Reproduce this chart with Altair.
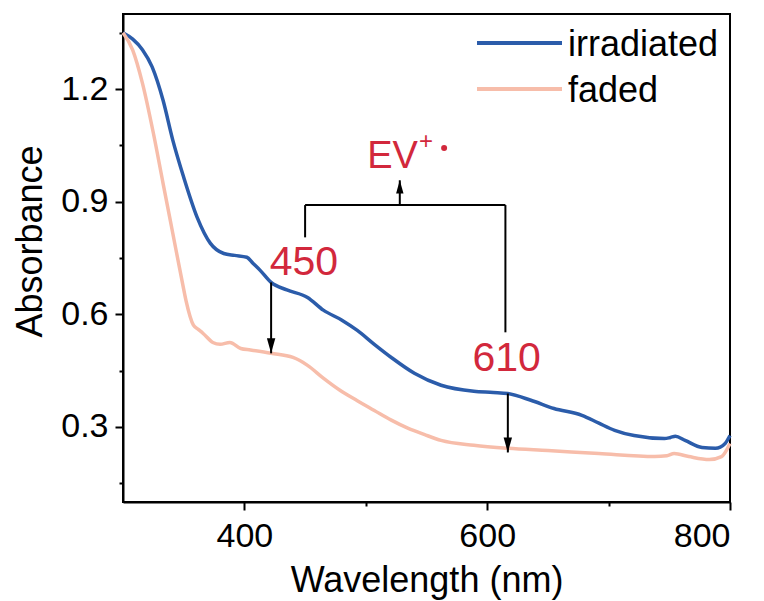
import altair as alt
import pandas as pd

# ---- data ----
irr_nm = [300, 308, 316, 324, 333, 341, 350, 361, 372, 383, 392, 402, 407, 413, 422, 435, 452, 465, 480, 493,
          507, 521, 540, 562, 589, 605, 617, 636, 655, 678, 692, 705, 721, 746, 751, 755, 763, 777, 788, 796, 800]
irr_abs = [1.35, 1.333, 1.305, 1.259, 1.17, 1.064, 0.965, 0.859, 0.789, 0.762, 0.757, 0.752, 0.736, 0.717, 0.685,
           0.665, 0.645, 0.611, 0.585, 0.557, 0.52, 0.485, 0.443, 0.411, 0.395, 0.392, 0.389, 0.371, 0.349, 0.331,
           0.31, 0.291, 0.277, 0.269, 0.272, 0.275, 0.264, 0.245, 0.243, 0.256, 0.277]

fad_nm = [300, 308, 316, 325, 333, 341, 349, 352, 358, 362, 366, 374, 380, 388, 397, 405, 422, 440, 452, 465,
          479, 493, 507, 521, 535, 548, 562, 589, 617, 650, 692, 738, 748, 754, 766, 783, 793, 800]
fad_abs = [1.35, 1.304, 1.216, 1.083, 0.949, 0.816, 0.683, 0.635, 0.571, 0.56, 0.549, 0.525, 0.52, 0.525, 0.509,
           0.505, 0.496, 0.485, 0.464, 0.43, 0.397, 0.37, 0.344, 0.318, 0.296, 0.28, 0.264, 0.251, 0.243, 0.237,
           0.229, 0.221, 0.223, 0.229, 0.221, 0.213, 0.221, 0.256]

series_names = ["irradiated", "faded"]
series_colors = ["#2b5caa", "#f7bdaa"]

# arrows from irradiated down to faded
arrow_x = [422, 617]
arrow_from = [0.685, 0.389]
arrow_to = [0.496, 0.232]
arrow_labels = ["450", "610"]
label_x = [449, 616]
label_y = [0.704, 0.448]

# bracket
br_left, br_right = 450, 615
br_top = 0.891
br_left_bottom, br_right_bottom = 0.805, 0.552
up_x, up_tip = 528, 0.957

ev_x, ev_y = 522, 0.989
plus_x, plus_y = 549.5, 1.059
dot_x, dot_y = 564.5, 1.043

x_ticks = [400, 500, 600, 700, 800]
y_ticks = [0.15, 0.3, 0.45, 0.6, 0.75, 0.9, 1.05, 1.2, 1.35]

RED = "#d2283c"
FONT = "Liberation Sans"

curves = pd.concat([
    pd.DataFrame({"series": series_names[0], "nm": irr_nm, "A": irr_abs}),
    pd.DataFrame({"series": series_names[1], "nm": fad_nm, "A": fad_abs}),
])

xs = alt.Scale(domain=[300, 800], nice=False, zero=False)
ys = alt.Scale(domain=[0.1, 1.4], nice=False, zero=False)

x_axis = alt.Axis(
    values=x_ticks, grid=False, title="Wavelength (nm)",
    labelExpr="datum.value % 200 == 0 ? format(datum.value, 'd') : ''",
    tickSize={"condition": {"test": "datum.value % 200 != 0", "value": 4}, "value": 8},
    labelPadding=9, titleY=89, titleBaseline="alphabetic",
)
y_axis = alt.Axis(
    values=y_ticks, grid=False, title="Absorbance",
    labelExpr="round(datum.value*100) % 30 == 0 ? format(datum.value, '.1f') : ''",
    tickSize={"condition": {"test": "round(datum.value*100) % 30 != 0", "value": 4}, "value": 8},
    labelPadding=7, titleX=-82, titleY=227, titleBaseline="alphabetic",
)

lines = alt.Chart(curves).mark_line(strokeWidth=3.5, interpolate="monotone").encode(
    x=alt.X("nm:Q", scale=xs, axis=x_axis),
    y=alt.Y("A:Q", scale=ys, axis=y_axis),
    color=alt.Color("series:N", scale=alt.Scale(domain=series_names, range=series_colors), legend=None),
    order=alt.Order("nm:Q"),
)

arrows_df = pd.DataFrame({"x": arrow_x, "y1": arrow_from, "y2": arrow_to})
shafts = alt.Chart(arrows_df).mark_rule(color="black", strokeWidth=2).encode(
    x=alt.X("x:Q", scale=xs), y=alt.Y("y1:Q", scale=ys), y2="y2:Q")
heads_down = alt.Chart(arrows_df).mark_point(
    shape="M0,0L-0.28,-1L0.28,-1Z", filled=True, size=900, color="black", opacity=1
).encode(x=alt.X("x:Q", scale=xs), y=alt.Y("y2:Q", scale=ys))

seg_df = pd.DataFrame({
    "x1": [br_left, br_left, br_right, up_x],
    "x2": [br_right, br_left, br_right, up_x],
    "y1": [br_top, br_top, br_top, br_top],
    "y2": [br_top, br_left_bottom, br_right_bottom, up_tip],
})
bracket = alt.Chart(seg_df).mark_rule(color="black", strokeWidth=2).encode(
    x=alt.X("x1:Q", scale=xs), x2="x2:Q", y=alt.Y("y1:Q", scale=ys), y2="y2:Q")
up_df = pd.DataFrame({"x": [up_x], "y": [up_tip]})
head_up = alt.Chart(up_df).mark_point(
    shape="M0,0L-0.28,1L0.28,1Z", filled=True, size=700, color="black", opacity=1
).encode(x=alt.X("x:Q", scale=xs), y=alt.Y("y:Q", scale=ys))

lab_df = pd.DataFrame({"x": label_x, "y": label_y, "t": arrow_labels})
labels = alt.Chart(lab_df).mark_text(
    font=FONT, fontSize=41, color=RED, align="center", baseline="alphabetic"
).encode(x=alt.X("x:Q", scale=xs), y=alt.Y("y:Q", scale=ys), text="t:N")

ev = alt.Chart(pd.DataFrame({"x": [ev_x], "y": [ev_y], "t": ["EV"]})).mark_text(
    font=FONT, fontSize=38, color=RED, align="center", baseline="alphabetic"
).encode(x=alt.X("x:Q", scale=xs), y=alt.Y("y:Q", scale=ys), text="t:N")
plus = alt.Chart(pd.DataFrame({"x": [plus_x], "y": [plus_y], "t": ["+"]})).mark_text(
    font=FONT, fontSize=24, color=RED, align="center", baseline="middle"
).encode(x=alt.X("x:Q", scale=xs), y=alt.Y("y:Q", scale=ys), text="t:N")
dot = alt.Chart(pd.DataFrame({"x": [dot_x], "y": [dot_y]})).mark_point(
    shape="circle", filled=True, size=36, color=RED, opacity=1
).encode(x=alt.X("x:Q", scale=xs), y=alt.Y("y:Q", scale=ys))

# manual legend
leg = []
for i, (name, col) in enumerate(zip(series_names, series_colors)):
    ly = 29 + 46 * i
    leg.append(alt.Chart(pd.DataFrame({"s": [name]})).mark_rule(color=col, strokeWidth=4).encode(
        x=alt.value(354), x2=alt.value(439), y=alt.value(ly)))
    leg.append(alt.Chart(pd.DataFrame({"s": [name]})).mark_text(
        font=FONT, fontSize=36, color="black", align="left", baseline="alphabetic"
    ).encode(x=alt.value(445), y=alt.value(ly + 13), text="s:N"))

chart = alt.layer(lines, shafts, heads_down, bracket, head_up, labels, ev, plus, dot, *leg).properties(
    width=607, height=488,
    autosize=alt.AutoSizeParams(type="none"),
    padding={"left": 115, "top": 6, "right": 26, "bottom": 99},
    background="white",
).configure_view(stroke="black", strokeWidth=2).configure_axis(
    labelFont=FONT, titleFont=FONT, labelFontSize=34, titleFontSize=36,
    labelColor="black", titleColor="black", titleFontWeight="normal",
    domainColor="black", domainWidth=2, tickColor="black", tickWidth=2,
)

chart.save("out.html", embed_options={"renderer": "svg", "actions": False})
